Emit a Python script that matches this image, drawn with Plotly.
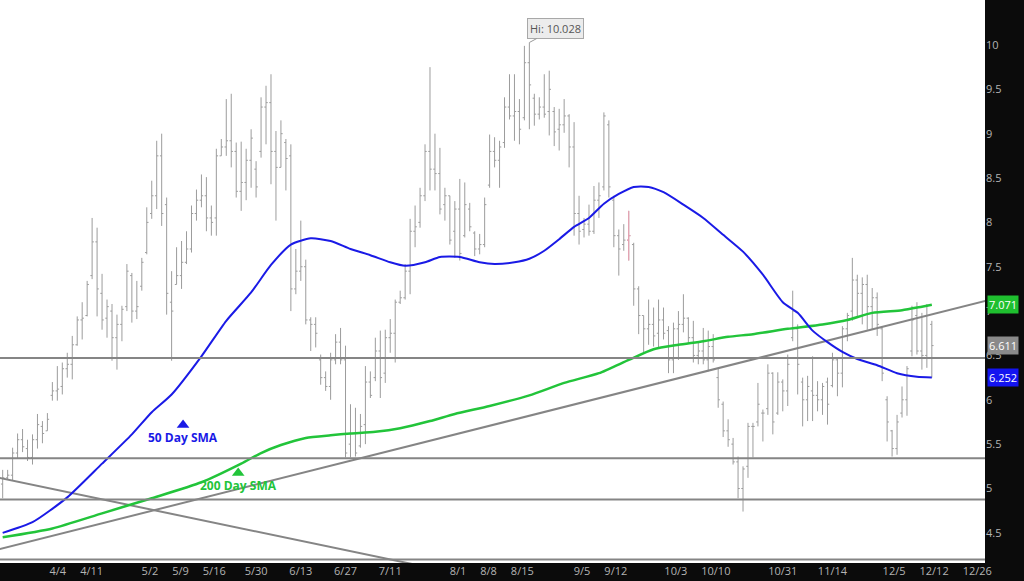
import pandas as pd
import plotly.graph_objects as go

# ---------------- data ----------------
start_date = "2022-03-17"
holidays = ["2022-04-15", "2022-05-30", "2022-06-20", "2022-07-04",
            "2022-09-05", "2022-11-24", "2022-12-26"]

open_ = [5.05, 5.12, 5.15, 5.40, 5.55, 5.45, 5.35, 5.55, 5.70, 5.65,
         6.05, 6.10, 6.15, 6.35, 6.40, 6.62, 6.90, 6.95, 7.40, 7.78,
         7.20, 6.92, 7.00, 6.70, 6.85, 7.05, 7.40, 7.00, 7.28, 7.66,
         8.10, 8.30, 8.75, 8.20, 7.10, 7.30, 7.40, 7.55, 7.70, 8.10,
         8.25, 8.30, 8.05, 8.05, 8.75, 8.85, 8.92, 8.80, 8.35, 8.45,
         8.70, 8.60, 8.80, 9.30, 9.35, 8.80, 8.62, 8.90, 8.75, 7.25,
         7.45, 7.50, 6.90, 6.85, 6.45, 6.25, 6.15, 6.45, 6.65, 6.45,
         5.50, 5.62, 5.48, 5.72, 6.20, 6.25, 6.55, 6.30, 6.70, 6.75,
         7.10, 7.15, 7.45, 7.90, 8.00, 8.30, 8.80, 8.60, 8.55, 8.20,
         8.30, 7.90, 8.15, 7.85, 8.15, 7.88, 7.70, 7.75, 8.42, 8.80,
         8.70, 8.90, 9.30, 9.20, 9.25, 9.18, 9.80, 9.40, 9.22, 9.30,
         9.25, 9.25, 9.05, 9.10, 9.20, 8.85, 8.10, 7.92, 7.98, 7.90,
         8.25, 8.40, 9.10, 8.25, 7.85, 7.75, 7.80, 7.75, 7.25, 6.95,
         6.80, 6.85, 6.75, 6.90, 6.78, 6.45, 6.80, 6.85, 6.92, 6.70,
         6.50, 6.55, 6.45, 6.60, 6.25, 5.95, 5.65, 5.50, 5.30, 5.00,
         5.25, 5.70, 5.75, 5.85, 5.90, 6.30, 5.85, 6.20, 6.10, 6.70,
         6.80, 6.20, 6.00, 6.10, 6.05, 6.00, 6.20, 6.16, 6.45, 6.30,
         6.80, 7.00, 7.35, 7.20, 7.30, 7.05, 7.15, 6.80, 6.00, 5.65,
         5.45, 5.85, 6.00, 6.55, 6.95, 6.55, 6.50, 6.85]

high = [5.21, 5.21, 5.46, 5.62, 5.67, 5.55, 5.61, 5.84, 5.76, 5.85,
        6.20, 6.38, 6.42, 6.53, 6.72, 6.94, 7.10, 7.34, 8.05, 7.94,
        7.42, 7.13, 7.08, 6.96, 7.06, 7.53, 7.43, 7.34, 7.60, 8.17,
        8.47, 8.92, 9.00, 8.28, 7.45, 7.72, 7.79, 7.90, 8.19, 8.37,
        8.54, 8.51, 8.19, 8.83, 8.94, 9.39, 9.45, 8.90, 8.91, 8.83,
        9.05, 8.69, 9.41, 9.54, 9.67, 9.03, 9.15, 8.94, 8.88, 7.70,
        8.02, 7.58, 6.93, 6.93, 6.51, 6.32, 6.53, 6.74, 6.81, 6.61,
        5.95, 5.91, 5.84, 6.38, 6.32, 6.70, 6.78, 6.79, 6.91, 7.13,
        7.23, 7.53, 8.04, 8.19, 8.39, 8.88, 9.75, 9.00, 8.84, 8.39,
        8.30, 8.24, 8.49, 8.45, 8.22, 7.90, 7.87, 8.28, 8.99, 8.96,
        8.92, 9.41, 9.67, 9.67, 9.39, 9.99, 10.028, 9.45, 9.41, 9.67,
        9.71, 9.30, 9.28, 9.39, 9.22, 9.13, 8.30, 8.05, 8.20, 8.41,
        8.45, 9.24, 9.15, 8.30, 7.92, 7.98, 8.13, 7.77, 7.28, 6.95,
        7.13, 7.04, 7.13, 7.04, 6.83, 6.87, 7.00, 7.19, 6.93, 6.89,
        6.64, 6.81, 6.78, 6.74, 6.36, 5.98, 5.78, 5.57, 5.36, 5.25,
        5.74, 5.74, 6.19, 5.89, 6.40, 6.31, 6.31, 6.23, 6.51, 7.23,
        6.85, 6.25, 6.27, 6.49, 6.21, 6.19, 6.25, 6.53, 6.46, 6.83,
        6.98, 7.60, 7.41, 7.38, 7.41, 7.26, 7.21, 6.83, 6.04, 5.66,
        5.83, 6.15, 6.38, 7.06, 7.10, 6.98, 7.08, 6.89]

low = [4.89, 5.10, 5.09, 5.34, 5.41, 5.31, 5.27, 5.45, 5.51, 5.65,
       5.99, 5.99, 6.06, 6.25, 6.23, 6.61, 6.68, 6.94, 7.36, 6.94,
       6.79, 6.70, 6.44, 6.34, 6.66, 7.00, 6.87, 6.91, 7.23, 7.64,
       8.04, 8.15, 7.96, 6.96, 6.44, 7.30, 7.25, 7.53, 7.66, 8.02,
       8.17, 7.90, 7.85, 7.85, 8.75, 8.75, 8.62, 8.28, 8.13, 8.25,
       8.39, 8.28, 8.73, 8.88, 8.43, 8.02, 8.62, 8.36, 7.00, 7.19,
       7.34, 6.85, 6.55, 6.59, 6.17, 6.10, 6.00, 6.40, 6.40, 5.35,
       5.35, 5.36, 5.46, 5.50, 6.02, 6.21, 6.02, 6.19, 6.53, 6.42,
       7.08, 7.13, 7.19, 7.72, 7.94, 8.24, 8.36, 8.36, 8.09, 8.02,
       7.75, 7.60, 7.57, 7.83, 7.90, 7.62, 7.64, 7.72, 8.39, 8.62,
       8.39, 8.84, 9.16, 8.92, 8.88, 9.15, 9.05, 9.09, 9.16, 9.18,
       8.98, 8.86, 8.81, 9.01, 8.62, 7.85, 7.75, 7.83, 7.85, 7.87,
       8.05, 8.36, 8.28, 7.72, 7.40, 7.68, 7.57, 7.06, 6.74, 6.53,
       6.62, 6.60, 6.59, 6.68, 6.30, 6.30, 6.45, 6.76, 6.64, 6.42,
       6.40, 6.40, 6.32, 6.42, 5.91, 5.58, 5.47, 5.27, 4.89, 4.74,
       5.12, 5.35, 5.70, 5.53, 5.83, 5.61, 5.83, 5.87, 5.93, 6.66,
       6.06, 5.70, 5.76, 5.76, 5.87, 5.83, 5.72, 6.14, 6.04, 6.14,
       6.66, 6.89, 6.94, 6.85, 6.79, 6.79, 6.72, 6.21, 5.53, 5.36,
       5.38, 5.80, 5.82, 6.49, 6.51, 6.34, 6.36, 6.25]

close = [5.12, 5.15, 5.40, 5.55, 5.47, 5.35, 5.55, 5.72, 5.62, 5.78,
         6.10, 6.12, 6.35, 6.40, 6.62, 6.90, 6.92, 7.30, 7.78, 7.25,
         6.90, 7.05, 6.70, 6.85, 7.02, 7.45, 7.00, 7.05, 7.55, 8.00,
         8.30, 8.75, 8.10, 7.20, 7.00, 7.40, 7.55, 7.70, 8.10, 8.25,
         8.30, 8.05, 8.00, 8.75, 8.85, 8.92, 8.80, 8.35, 8.45, 8.70,
         8.95, 8.40, 9.30, 9.35, 8.80, 8.62, 9.00, 8.72, 7.25, 7.45,
         7.50, 6.90, 6.85, 6.75, 6.25, 6.15, 6.45, 6.65, 6.45, 5.40,
         5.62, 5.40, 5.70, 6.20, 6.05, 6.55, 6.25, 6.70, 6.75, 7.10,
         7.15, 7.45, 7.90, 7.95, 8.30, 8.80, 8.60, 8.55, 8.15, 8.30,
         7.80, 8.15, 7.65, 8.20, 7.95, 7.70, 7.75, 8.20, 8.80, 8.70,
         8.85, 9.30, 9.20, 9.25, 9.05, 9.80, 9.55, 9.22, 9.30, 9.22,
         9.50, 9.02, 9.10, 9.20, 8.85, 8.10, 7.90, 7.98, 7.90, 8.25,
         8.30, 9.20, 8.40, 7.85, 7.70, 7.80, 7.85, 7.25, 6.95, 6.80,
         6.85, 6.72, 6.90, 6.75, 6.45, 6.80, 6.85, 6.92, 6.70, 6.50,
         6.55, 6.45, 6.60, 6.45, 6.00, 5.65, 5.55, 5.30, 5.00, 5.22,
         5.70, 5.70, 5.95, 5.85, 6.30, 5.75, 6.20, 6.10, 6.40, 7.00,
         6.40, 6.00, 6.15, 6.05, 6.00, 6.15, 5.95, 6.45, 6.30, 6.80,
         6.95, 7.35, 7.20, 7.30, 7.05, 7.15, 6.85, 6.30, 5.75, 5.45,
         5.75, 6.00, 6.35, 6.90, 6.55, 6.50, 6.95, 6.611]

highlight_bars = [126]  # bar drawn in pink

# 50-day and 200-day simple moving averages (bar index, value)
sma50_idx = [0, 6, 13, 20, 26, 30, 34, 40, 45, 50, 54, 58, 62, 66, 70, 74, 78, 81,
             85, 88, 92, 96, 99, 103, 106, 109, 112, 115, 118, 121, 124, 127, 130,
             133, 137, 141, 145, 149, 153, 157, 160, 163, 166, 169, 172, 176, 180,
             184, 187]
sma50_val = [4.50, 4.62, 4.90, 5.28, 5.61, 5.86, 6.06, 6.49, 6.89, 7.21, 7.52, 7.75,
             7.82, 7.79, 7.70, 7.63, 7.55, 7.51, 7.55, 7.61, 7.61, 7.55, 7.53, 7.55,
             7.59, 7.68, 7.81, 7.95, 8.05, 8.21, 8.32, 8.40, 8.40, 8.34, 8.20, 8.05,
             7.86, 7.67, 7.41, 7.10, 6.98, 6.78, 6.65, 6.54, 6.46, 6.39, 6.30, 6.26,
             6.252]
sma200_idx = [0, 10, 20, 30, 40, 48, 52, 56, 61, 66, 70, 75, 80, 86, 91, 98, 106,
              113, 120, 126, 131, 136, 141, 146, 151, 158, 165, 170, 175, 181, 185, 187]
sma200_val = [4.45, 4.55, 4.72, 4.89, 5.07, 5.28, 5.40, 5.49, 5.57, 5.60, 5.62, 5.64,
              5.68, 5.76, 5.84, 5.93, 6.05, 6.19, 6.30, 6.45, 6.57, 6.62, 6.66, 6.71,
              6.74, 6.80, 6.85, 6.90, 6.98, 7.01, 7.05, 7.071]

# hand-drawn trend lines (bar index, price)
rising_idx = [-1, 198]
rising_val = [4.311, 7.118]
falling_idx = [-1, 90]
falling_val = [5.123, 4.060]

# horizontal support / resistance levels
levels = [6.47, 5.34, 4.876, 4.20]

tick_dates = ["2022-04-04", "2022-04-11", "2022-05-02", "2022-05-09", "2022-05-16",
              "2022-05-30", "2022-06-13", "2022-06-27", "2022-07-11", "2022-08-01",
              "2022-08-08", "2022-08-15", "2022-09-05", "2022-09-12", "2022-10-03",
              "2022-10-10", "2022-10-31", "2022-11-14", "2022-12-05", "2022-12-12",
              "2022-12-26"]
y_ticks = [4.5, 5, 5.5, 6, 6.5, 7, 7.5, 8, 8.5, 9, 9.5, 10, 10.5]

# ---------------- build ----------------
X_RANGE = [-0.54, 197.7]
PLOT_W = 985  # plot-area width in px (1024 - right margin)

cal = pd.bdate_range(start_date, "2023-01-31")
cal = cal[~cal.isin(pd.to_datetime(holidays))]
n = len(close)
bar_x = list(range(n))
tick_txt = [f"{pd.Timestamp(d).month}/{pd.Timestamp(d).day}" for d in tick_dates]
tick_pos = [float(cal.searchsorted(pd.Timestamp(d))) for d in tick_dates]

# spread date labels apart so they never collide (as the charting package does)
px_per_bar = PLOT_W / (X_RANGE[1] - X_RANGE[0])
widths = [6.3 * sum(c.isdigit() for c in t) + 4 * t.count("/") for t in tick_txt]
GAP = 14
pos_px = [p * px_per_bar for p in tick_pos]
for _ in range(300):
    moved = False
    for i in range(len(pos_px) - 1):
        need = (widths[i] + widths[i + 1]) / 2 + GAP
        d = pos_px[i + 1] - pos_px[i]
        if d < need - 0.01:
            shift = (need - d) / 2
            pos_px[i] -= shift
            pos_px[i + 1] += shift
            moved = True
    if not moved:
        break
tick_pos = [p / px_per_bar for p in pos_px]

BAR = "#9c9c9c"
BLUE = "#1a1ae6"
GREEN = "#22c43a"
LINE = "#858585"
FONT = "Open Sans"

fig = go.Figure()

fig.add_trace(go.Ohlc(
    x=bar_x, open=open_, high=high, low=low, close=close,
    increasing=dict(line=dict(color=BAR, width=1)),
    decreasing=dict(line=dict(color=BAR, width=1)),
    tickwidth=0.35, showlegend=False, hoverinfo="skip"))

fig.add_trace(go.Ohlc(
    x=[bar_x[i] for i in highlight_bars],
    open=[open_[i] for i in highlight_bars], high=[high[i] for i in highlight_bars],
    low=[low[i] for i in highlight_bars], close=[close[i] for i in highlight_bars],
    increasing=dict(line=dict(color="#f2a0b4", width=1)),
    decreasing=dict(line=dict(color="#f2a0b4", width=1)),
    tickwidth=0.35, showlegend=False, hoverinfo="skip"))

for xs, ys in [(rising_idx, rising_val), (falling_idx, falling_val)]:
    fig.add_trace(go.Scatter(x=xs, y=ys, mode="lines",
                             line=dict(color=LINE, width=2),
                             showlegend=False, hoverinfo="skip"))

fig.add_trace(go.Scatter(x=sma200_idx, y=sma200_val, mode="lines",
                         line=dict(color=GREEN, width=2.5, shape="spline", smoothing=0.6),
                         showlegend=False, hoverinfo="skip"))
fig.add_trace(go.Scatter(x=sma50_idx, y=sma50_val, mode="lines",
                         line=dict(color=BLUE, width=2, shape="spline", smoothing=0.6),
                         showlegend=False, hoverinfo="skip"))

# label markers for the moving averages
fig.add_trace(go.Scatter(x=[36.3, 47.4], y=[5.715, 5.175], mode="markers",
                         marker=dict(symbol="triangle-up", size=11,
                                     color=[BLUE, GREEN]),
                         showlegend=False, hoverinfo="skip"))

shapes = [dict(type="line", xref="paper", x0=0, x1=1, yref="y", y0=v, y1=v,
               line=dict(color=LINE, width=2), layer="above") for v in levels]

hi_i = max(range(n), key=lambda i: high[i])
annotations = [
    dict(x=36.3, y=5.575, xref="x", yref="y", text="<b>50 Day SMA</b>",
         showarrow=False, font=dict(family=FONT, size=12, color=BLUE)),
    dict(x=47.4, y=5.035, xref="x", yref="y", text="<b>200 Day SMA</b>",
         showarrow=False, font=dict(family=FONT, size=12, color=GREEN)),
    dict(x=bar_x[hi_i], y=high[hi_i], xref="x", yref="y",
         text=f"Hi: {high[hi_i]:.3f}", showarrow=True, arrowhead=0,
         arrowcolor="#999999", arrowwidth=1, ax=26, ay=-14,
         bgcolor="#ececec", bordercolor="#a8a8a8", borderwidth=1, borderpad=2,
         font=dict(family=FONT, size=11, color="#555555")),
]
for val, col in [(sma200_val[-1], "#1fbf2f"), (close[-1], "#8a8a8a"),
                 (sma50_val[-1], "#1414f0")]:
    annotations.append(dict(x=1, xref="paper", xanchor="left", xshift=2,
                            y=val, yref="y", text=f"{val:.3f}", showarrow=False,
                            bgcolor=col, borderpad=1,
                            font=dict(family=FONT, size=11, color="white")))

fig.update_layout(
    width=1024, height=581,
    margin=dict(l=0, r=1024 - PLOT_W, t=0, b=18, pad=0, autoexpand=False),
    paper_bgcolor="#0b0b0b", plot_bgcolor="white",
    font=dict(family=FONT, size=11, color="#b4b4b4"),
    shapes=shapes, annotations=annotations,
    xaxis=dict(range=X_RANGE, tickvals=tick_pos, ticktext=tick_txt,
               tickangle=0, automargin=False,
               showgrid=False, zeroline=False, showline=False, ticks="",
               rangeslider=dict(visible=False),
               tickfont=dict(family=FONT, size=11, color="#b4b4b4")),
    yaxis=dict(range=[4.16, 10.507], side="right", tickvals=y_ticks,
               ticktext=[f"{v:g}" for v in y_ticks], automargin=False,
               showgrid=False, zeroline=False, showline=False, ticks="",
               tickfont=dict(family=FONT, size=11, color="#b4b4b4")),
)

fig.write_html("out.html", config=dict(displayModeBar=False),
               post_script="document.body.style.margin='0';"
                           "document.body.style.overflow='hidden';")
